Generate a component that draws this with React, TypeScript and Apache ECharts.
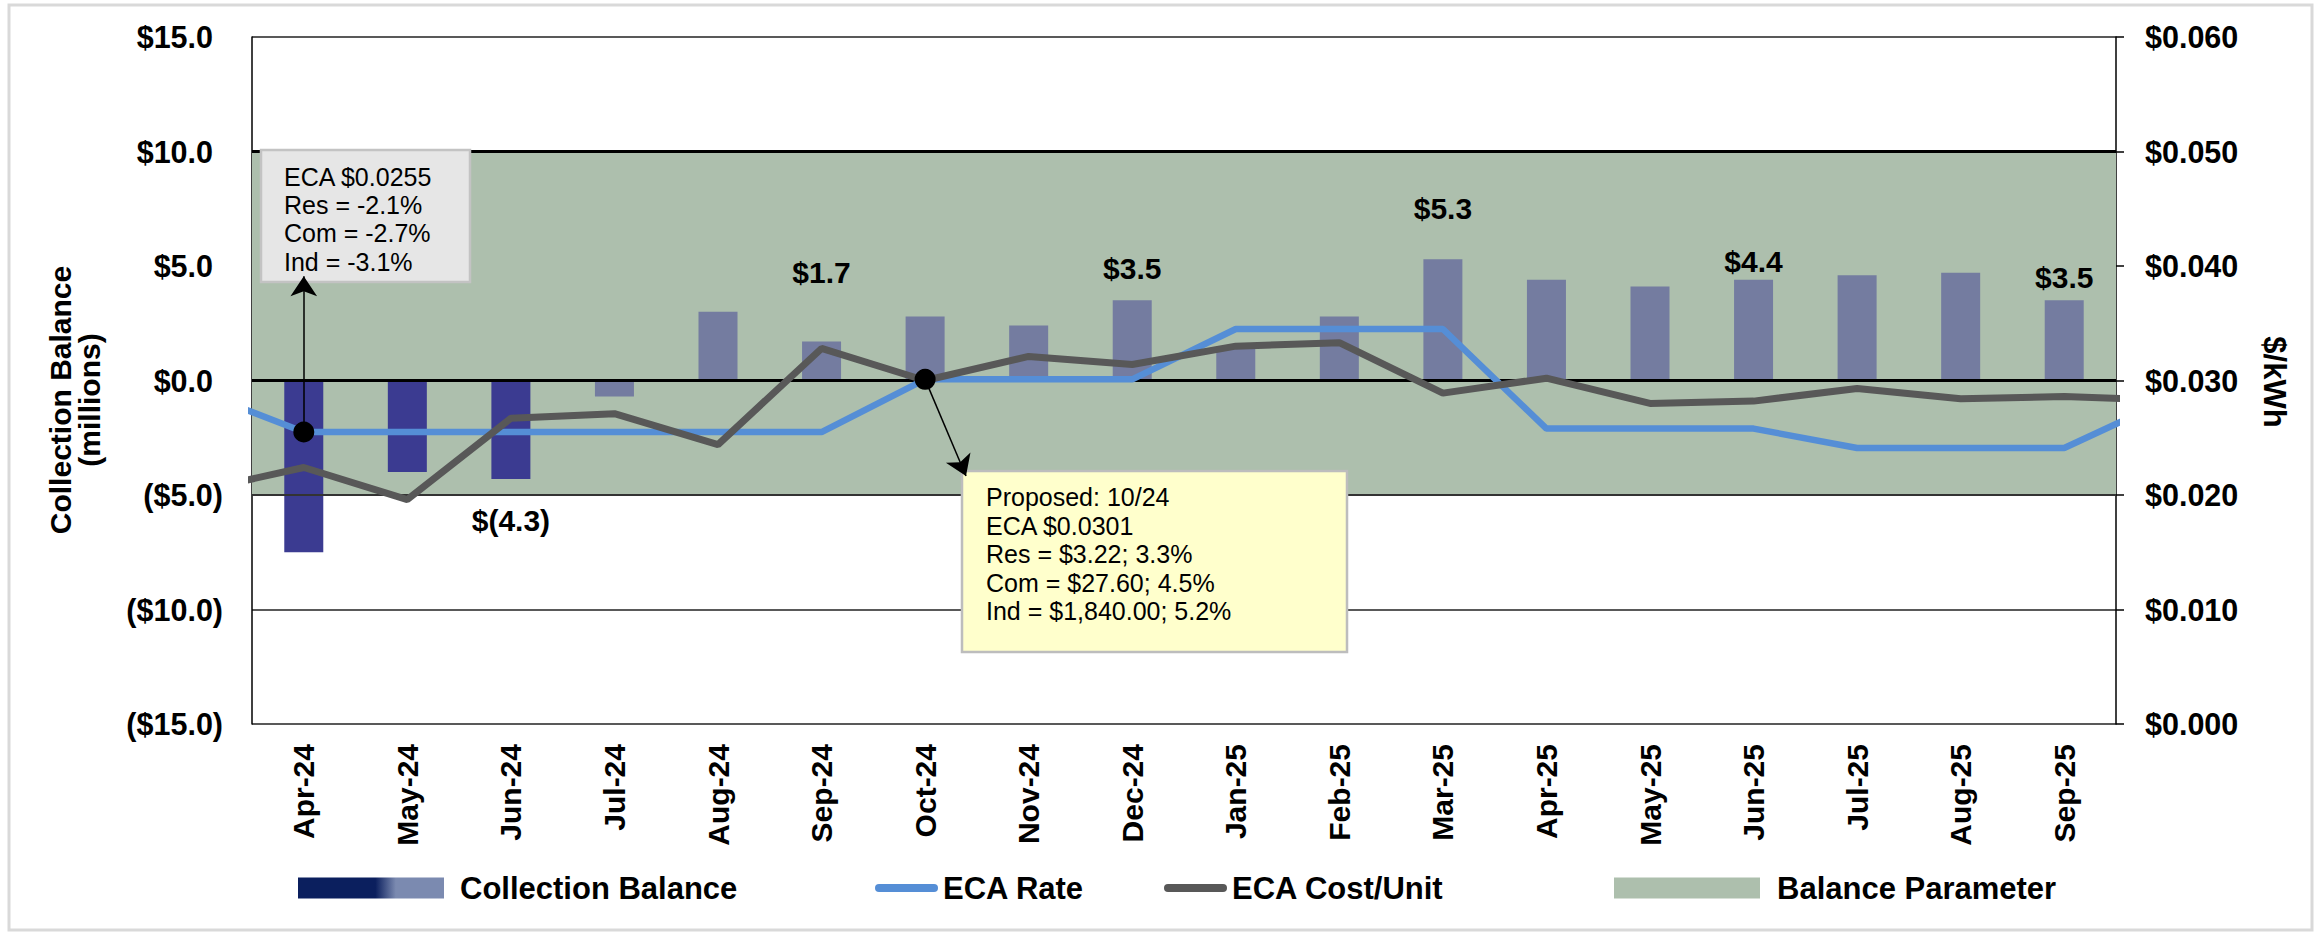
import React, { useEffect, useRef } from "react";
import * as echarts from "echarts";

// ---------- data ----------
// Mar-24 and Oct-25 lie just outside the visible range (only their connecting segments show)
const categories = [
  "Mar-24", "Apr-24", "May-24", "Jun-24", "Jul-24", "Aug-24", "Sep-24", "Oct-24", "Nov-24", "Dec-24",
  "Jan-25", "Feb-25", "Mar-25", "Apr-25", "May-25", "Jun-25", "Jul-25", "Aug-25", "Sep-25", "Oct-25",
];
const firstShown = "Apr-24";
const lastShown = "Sep-25";
const lastActualMonth = "Jun-24";

// Collection balance, $ millions
const collectionBalance: (number | null)[] = [
  null, -7.5, -4.0, -4.3, -0.7, 3.0, 1.7, 2.8, 2.4, 3.5,
  1.4, 2.8, 5.3, 4.4, 4.1, 4.4, 4.6, 4.7, 3.5, null,
];
// ECA rate, $/kWh
const ecaRate = [
  0.029, 0.0255, 0.0255, 0.0255, 0.0255, 0.0255, 0.0255, 0.0301, 0.0301, 0.0301,
  0.0345, 0.0345, 0.0345, 0.0258, 0.0258, 0.0258, 0.0241, 0.0241, 0.0241, 0.0283,
];
// ECA cost per unit, $/kWh
const ecaCost = [
  0.0204, 0.0224, 0.0196, 0.0267, 0.0271, 0.0244, 0.0328, 0.030, 0.0321, 0.0314,
  0.033, 0.0333, 0.0289, 0.0302, 0.028, 0.0282, 0.0293, 0.0284, 0.0286, 0.0283,
];
// Balance parameter band, $ millions
const balanceParameter = [-5, 10];
const labeledMonths = ["Jun-24", "Sep-24", "Dec-24", "Mar-25", "Jun-25", "Sep-25"];

const leftTicks = { min: -15, max: 15, interval: 5 };
const rightTicks = { min: 0, max: 0.06, interval: 0.01 };

const currentNoteMonth = "Apr-24";
const currentNote = ["ECA $0.0255", "Res = -2.1%", "Com = -2.7%", "Ind = -3.1%"];
const proposedNoteMonth = "Oct-24";
const proposedNote = [
  "Proposed: 10/24",
  "ECA $0.0301",
  "Res = $3.22; 3.3%",
  "Com = $27.60; 4.5%",
  "Ind = $1,840.00; 5.2%",
];

// ---------- styles ----------
const FONT = "'Liberation Sans', Arial, Helvetica, sans-serif";
const GREEN = "#adbfad";
const BAR_ACTUAL = "#3b3b91";
const BAR_PROJ = "#747ca0";
const BLUE = "#558ed6";
const GRAY = "#585858";

const labelPlacement: Record<string, { position: string; distance: number }> = {
  "Jun-24": { position: "bottom", distance: 27 },
  "Sep-24": { position: "top", distance: 54 },
  "Dec-24": { position: "top", distance: 17 },
  "Mar-25": { position: "top", distance: 36 },
  "Jun-25": { position: "top", distance: 3 },
  "Sep-25": { position: "top", distance: 8 },
};

const money1 = (v: number) => (v < 0 ? `$(${(-v).toFixed(1)})` : `$${v.toFixed(1)}`);

function buildOption() {
  const actualIdx = categories.indexOf(lastActualMonth);
  const barData = collectionBalance.map((v, i) => {
    if (v === null) return "-";
    const cat = categories[i];
    const lab = labeledMonths.includes(cat) ? labelPlacement[cat] : null;
    return {
      value: v,
      itemStyle: { color: i <= actualIdx ? BAR_ACTUAL : BAR_PROJ },
      label: lab
        ? {
            show: true,
            position: lab.position,
            distance: lab.distance,
            formatter: (p: any) => money1(p.value),
            fontFamily: FONT,
            fontWeight: "bold",
            fontSize: 30,
            color: "#000",
          }
        : { show: false },
    };
  });

  const curIdx = categories.indexOf(currentNoteMonth);
  const propIdx = categories.indexOf(proposedNoteMonth);

  const legendText = {
    fontFamily: FONT,
    fontWeight: "bold",
    fontSize: 31,
    color: "#000",
    lineHeight: 34,
  };
  const lineIcon = "path://M4,0 L59,0 A4,4 0 0 1 59,8 L4,8 A4,4 0 0 1 4,0 Z";
  const collectGradient = new echarts.graphic.LinearGradient(0, 0, 1, 0, [
    { offset: 0, color: "#0b1f5e" },
    { offset: 0.53, color: "#0b1f5e" },
    { offset: 0.67, color: "#7b8ab0" },
    { offset: 1, color: "#7b8ab0" },
  ]);

  const axisLabelStyle = {
    fontFamily: FONT,
    fontWeight: "bold" as const,
    fontSize: 30.5,
    color: "#000",
  };

  return {
    animation: false,
    backgroundColor: "#ffffff",
    grid: { left: 252, right: 207, top: 37, bottom: 212, containLabel: false, outerBoundsMode: "none" },
    legend: [
      {
        left: 298, top: 871, padding: 0, itemWidth: 146, itemHeight: 21, selectedMode: false,
        data: [{ name: "Collection Balance", icon: "rect", itemStyle: { color: collectGradient } }],
        textStyle: { ...legendText, padding: [0, 0, 0, 11] },
      },
      {
        left: 875, top: 871, padding: 0, itemWidth: 63, itemHeight: 8, selectedMode: false,
        data: [{ name: "ECA Rate", icon: lineIcon, itemStyle: { color: BLUE } }],
        textStyle: legendText,
      },
      {
        left: 1164, top: 871, padding: 0, itemWidth: 63, itemHeight: 8, selectedMode: false,
        data: [{ name: "ECA Cost/Unit", icon: lineIcon, itemStyle: { color: GRAY } }],
        textStyle: legendText,
      },
      {
        left: 1614, top: 871, padding: 0, itemWidth: 146, itemHeight: 21, selectedMode: false,
        data: [{ name: "Balance Parameter", icon: "rect", itemStyle: { color: GREEN } }],
        textStyle: { ...legendText, padding: [0, 0, 0, 12] },
      },
    ],
    xAxis: {
      type: "category",
      data: categories,
      min: categories.indexOf(firstShown),
      max: categories.indexOf(lastShown),
      boundaryGap: true,
      axisLine: { show: false },
      axisTick: { show: false },
      splitLine: { show: false },
      axisLabel: { ...axisLabelStyle, rotate: 90, margin: 20, interval: 0, fontSize: 30 },
    },
    yAxis: [
      {
        type: "value",
        position: "left",
        ...leftTicks,
        axisLine: { show: true, lineStyle: { color: "#000", width: 1.5 } },
        axisTick: { show: false },
        splitLine: { show: true, lineStyle: { color: "#222", width: 1.5 } },
        axisLabel: {
          ...axisLabelStyle,
          margin: 29,
          formatter: (v: number) =>
            v < 0 ? `($${(-v).toFixed(1)})` : `{p|$${v.toFixed(1)}}`,
          rich: { p: { ...axisLabelStyle, padding: [0, 10, 0, 0] } },
        },
      },
      {
        type: "value",
        position: "right",
        ...rightTicks,
        axisLine: { show: true, lineStyle: { color: "#000", width: 1.5 } },
        axisTick: { show: true, inside: false, length: 8, lineStyle: { color: "#000", width: 1.5 } },
        splitLine: { show: false },
        axisLabel: { ...axisLabelStyle, margin: 29, formatter: (v: number) => `$${v.toFixed(3)}` },
      },
    ],
    series: [
      {
        name: "Balance Parameter",
        type: "line",
        yAxisIndex: 0,
        data: [],
        itemStyle: { color: GREEN },
        markArea: {
          silent: true,
          z: 1,
          itemStyle: { color: GREEN, opacity: 1 },
          label: { show: false },
          data: [[{ yAxis: balanceParameter[0] }, { yAxis: balanceParameter[1] }]],
        },
        markLine: {
          silent: true,
          z: 3,
          symbol: "none",
          label: { show: false },
          data: [
            { yAxis: balanceParameter[1], lineStyle: { color: "#000", width: 3, type: "solid" } },
            { yAxis: 0, lineStyle: { color: "#000", width: 3, type: "solid" } },
            { yAxis: balanceParameter[0], lineStyle: { color: "#333", width: 2, type: "solid" } },
          ],
        },
      },
      {
        name: "Collection Balance",
        type: "bar",
        yAxisIndex: 0,
        barWidth: 39,
        z: 2,
        itemStyle: { color: BAR_PROJ },
        data: barData,
      },
      {
        name: "ECA Rate",
        type: "line",
        yAxisIndex: 1,
        data: ecaRate,
        z: 4,
        showSymbol: false,
        symbol: "none",
        itemStyle: { color: BLUE },
        lineStyle: { color: BLUE, width: 6.5 },
        markPoint: {
          silent: true,
          z: 7,
          symbol: "circle",
          symbolSize: 21,
          itemStyle: { color: "#000" },
          label: { show: false },
          data: [
            { coord: [currentNoteMonth, ecaRate[curIdx]] },
            { coord: [proposedNoteMonth, ecaRate[propIdx]] },
          ],
        },
        markLine: {
          silent: true,
          z: 6,
          symbol: ["none", "arrow"],
          symbolSize: 20,
          label: { show: false },
          lineStyle: { color: "#000", width: 1.5, type: "solid" },
          data: [
            [{ coord: [currentNoteMonth, ecaRate[curIdx]] }, { coord: [currentNoteMonth, 0.0391] }],
            [{ coord: [proposedNoteMonth, ecaRate[propIdx]] }, { x: 966, y: 476 }],
          ],
        },
      },
      {
        name: "ECA Cost/Unit",
        type: "line",
        yAxisIndex: 1,
        data: ecaCost,
        z: 4,
        showSymbol: false,
        symbol: "none",
        itemStyle: { color: GRAY },
        lineStyle: { color: GRAY, width: 7 },
      },
    ],
    graphic: [
      {
        type: "rect",
        z: 0,
        shape: { x: 9, y: 5, width: 2303, height: 925 },
        style: { fill: "none", stroke: "#d9d9d9", lineWidth: 3 },
        silent: true,
      },
      {
        type: "rect",
        z: 5,
        shape: { x: 261, y: 150, width: 209, height: 132 },
        style: { fill: "#e6e6e6", stroke: "#c3c3c3", lineWidth: 2.5 },
        silent: true,
      },
      {
        type: "text",
        z: 5,
        x: 284,
        y: 162.5,
        silent: true,
        style: {
          text: currentNote.join("\n"),
          fontFamily: FONT,
          fontSize: 25,
          lineHeight: 28.3,
          fill: "#000",
          verticalAlign: "top",
          align: "left",
        },
      },
      {
        type: "rect",
        z: 5,
        shape: { x: 962, y: 471, width: 385, height: 181 },
        style: { fill: "#ffffcc", stroke: "#bdbdbd", lineWidth: 2.5 },
        silent: true,
      },
      {
        type: "text",
        z: 5,
        x: 986,
        y: 483,
        silent: true,
        style: {
          text: proposedNote.join("\n"),
          fontFamily: FONT,
          fontSize: 25,
          lineHeight: 28.5,
          fill: "#000",
          verticalAlign: "top",
          align: "left",
        },
      },
      {
        type: "text",
        z: 5,
        x: 75,
        y: 400,
        rotation: Math.PI / 2,
        silent: true,
        style: {
          text: "Collection Balance\n(millions)",
          fontFamily: FONT,
          fontWeight: "bold",
          fontSize: 30,
          lineHeight: 29,
          fill: "#000",
          align: "center",
          verticalAlign: "middle",
        },
      },
      {
        type: "text",
        z: 5,
        x: 2274,
        y: 382,
        rotation: -Math.PI / 2,
        silent: true,
        style: {
          text: "$/kWh",
          fontFamily: FONT,
          fontWeight: "bold",
          fontSize: 31,
          fill: "#000",
          align: "center",
          verticalAlign: "middle",
        },
      },
    ],
  };
}

export default function App() {
  const ref = useRef<HTMLDivElement>(null);
  useEffect(() => {
    if (!ref.current) return;
    const chart = echarts.init(ref.current, null, { renderer: "svg" });
    chart.setOption(buildOption() as any);
    return () => chart.dispose();
  }, []);
  return (
    <div
      ref={ref}
      style={{ position: "fixed", left: 0, top: 0, width: 2323, height: 936, background: "#fff" }}
    />
  );
}
